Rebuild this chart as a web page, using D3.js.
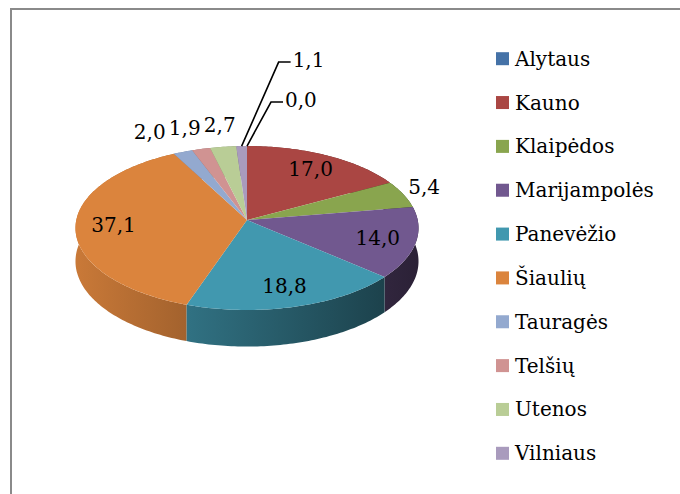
<!DOCTYPE html>
<html>
<head>
<meta charset="utf-8">
<script src="https://cdn.jsdelivr.net/npm/d3@7"></script>
<style>
  body { margin: 0; background: #fff; }
  svg text { font-family: "DejaVu Serif", serif; font-size: 20px; fill: #000; }
</style>
</head>
<body>
<div id="plot"></div>
<script>
// data
var categories = ["Alytaus", "Kauno", "Klaipėdos", "Marijampolės", "Panevėžio", "Šiaulių", "Tauragės", "Telšių", "Utenos", "Vilniaus"];
var values = [0.0, 17.0, 5.4, 14.0, 18.8, 37.1, 2.0, 1.9, 2.7, 1.1];
var colors = ["#4572A7", "#AA4643", "#89A54E", "#71588F", "#4198AF", "#DB843D", "#93A9CF", "#D09392", "#B9CD96", "#A99BBD"];

var width = 680;
var height = 494;

var svg = d3.select("div#plot")
  .append("svg")
  .attr("width", width)
  .attr("height", height);

// frame
svg.append("rect")
  .attr("x", 11).attr("y", 9)
  .attr("width", width).attr("height", height)
  .style("fill", "none")
  .style("stroke", "#8a8a8a")
  .style("stroke-width", 2);

var lt = d3.formatLocale({decimal: ",", thousands: " ", grouping: [3], currency: ["", ""]});
var fmt = lt.format(".1f");

// perspective pie: circle point (u,v) -> screen, w = 1 + k*v
var k = 0.0976;
var depth = 33;
var xs = d3.scaleLinear().domain([-1, 1]).range([76.3, 417.7]);
var ys = d3.scaleLinear().domain([-1, 1]).range([301.2, 138.8]);

function proj(theta, t) {
  var u = Math.sin(theta) * t, v = Math.cos(theta) * t, w = 1 + k * v;
  return [xs(u / w), ys(v / w), w];
}

var pie = d3.pie().sort(null).value(function(d){ return d; });
var arcs = pie(values);
arcs.forEach(function(d, i){ d.name = categories[i]; d.color = colors[i]; d.mid = (d.startAngle + d.endAngle) / 2; });

function rimPoints(a0, a1) {
  var n = Math.max(2, Math.ceil((a1 - a0) / (Math.PI / 180)));
  var pts = [];
  for (var j = 0; j <= n; j++) pts.push(proj(a0 + (a1 - a0) * j / n, 1));
  return pts;
}

var line = d3.line();

// side shading
function shade(c, f) {
  var r = d3.rgb(c);
  return d3.rgb(r.r * f, r.g * f, r.b * f).formatHex();
}
var defs = svg.append("defs");
arcs.forEach(function(d, i){
  var g = defs.append("linearGradient")
    .attr("id", "side" + i)
    .attr("gradientUnits", "userSpaceOnUse")
    .attr("x1", xs(-1)).attr("x2", xs(1))
    .attr("y1", 0).attr("y2", 0);
  g.append("stop").attr("offset", "0%").attr("stop-color", shade(d.color, 0.92));
  g.append("stop").attr("offset", "100%").attr("stop-color", shade(d.color, 0.38));
});

// sides, back first
var sideOrder = arcs.slice().sort(function(a, b){ return Math.cos(b.mid) - Math.cos(a.mid); });
svg.append("g").selectAll("path")
  .data(sideOrder.filter(function(d){ return d.value > 0; }))
  .enter()
  .append("path")
  .attr("d", function(d){
    var top = rimPoints(d.startAngle, d.endAngle);
    var bottom = top.map(function(p){ return [p[0], p[1] + depth / p[2]]; }).reverse();
    return line(top.concat(bottom).map(function(p){ return [p[0], p[1]]; })) + "Z";
  })
  .style("fill", function(d){ return "url(#side" + d.index + ")"; });

// tops
svg.append("g").selectAll("path")
  .data(arcs.filter(function(d){ return d.value > 0; }))
  .enter()
  .append("path")
  .attr("d", function(d){
    var c = proj(0, 0);
    var pts = [[c[0], c[1]]].concat(rimPoints(d.startAngle, d.endAngle).map(function(p){ return [p[0], p[1]]; }));
    return line(pts) + "Z";
  })
  .style("fill", function(d){ return d.color; });

// data labels
var labels = arcs.map(function(d){
  var o = {d: d, text: fmt(d.value)};
  if (d.value >= 10) {
    var p = proj(d.mid, 0.78);
    o.type = "in"; o.x = p[0]; o.y = p[1];
  } else if (d.value >= 1.5) {
    var r = proj(d.mid, 1);
    o.type = "out"; o.x = r[0] + Math.sin(d.mid) * 22; o.y = r[1] - Math.cos(d.mid) * 22;
  } else {
    var r2 = proj(d.mid, 1);
    o.type = "leader"; o.rx = r2[0]; o.ry = r2[1];
  }
  return o;
});

// spread crowded outside labels
var outs = labels.filter(function(o){ return o.type == "out"; })
  .sort(function(a, b){ return b.x - a.x; });
for (var i = 1; i < outs.length; i++) {
  var prev = outs[i - 1];
  if (Math.abs(outs[i].y - prev.y) < 20 && outs[i].x > prev.x - 35) outs[i].x = prev.x - 35;
}

// leader labels stacked above the pie
var leads = labels.filter(function(o){ return o.type == "leader"; })
  .sort(function(a, b){ return b.rx - a.rx; });
leads.forEach(function(o, j){
  o.bx = o.rx + 24 + 13 * j;
  o.by = o.ry - 44 - 40 * j;
  o.x = o.bx + 14;
  o.y = o.by - 2;
});

svg.append("g").selectAll("path")
  .data(leads)
  .enter()
  .append("path")
  .attr("d", function(o){ return line([[o.rx, o.ry], [o.bx, o.by], [o.bx + 12, o.by]]); })
  .style("fill", "none")
  .style("stroke", "#000")
  .style("stroke-width", 1.6);

svg.append("g").selectAll("text")
  .data(labels)
  .enter()
  .append("text")
  .attr("x", function(o){ return o.x; })
  .attr("y", function(o){ return o.y; })
  .attr("dy", "0.35em")
  .attr("text-anchor", function(o){ return o.type == "leader" ? "start" : "middle"; })
  .text(function(o){ return o.text; });

// legend
var ly = d3.scalePoint().domain(categories).range([58.7, 453.3]);
var legend = svg.append("g").selectAll("g")
  .data(categories)
  .enter()
  .append("g")
  .attr("transform", function(d){ return "translate(496," + ly(d) + ")"; });
legend.append("rect")
  .attr("x", 0).attr("y", -6.5)
  .attr("width", 13).attr("height", 13)
  .style("fill", function(d, i){ return colors[i]; });
legend.append("text")
  .attr("x", 19)
  .attr("dy", "0.35em")
  .text(function(d){ return d; });
</script>
</body>
</html>
